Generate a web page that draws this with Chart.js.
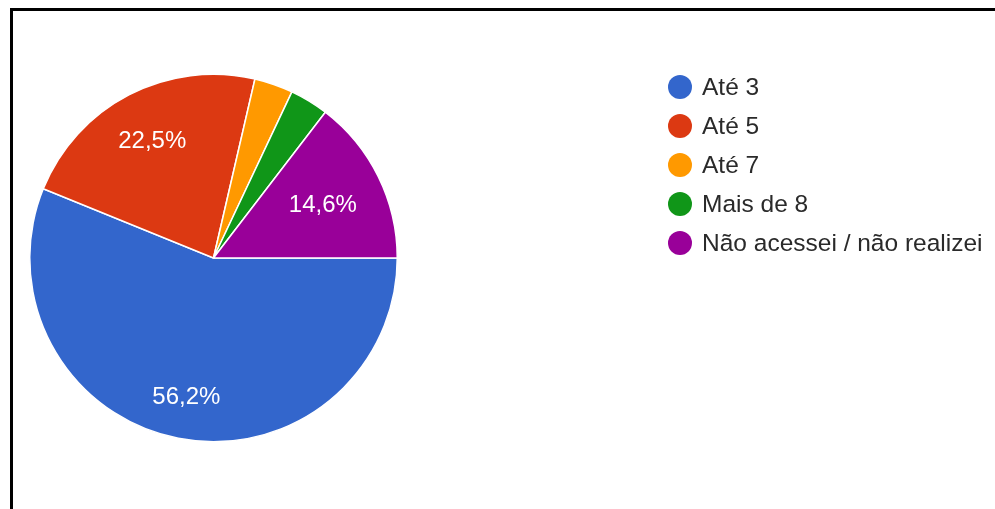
<!DOCTYPE html>
<html>
<head>
<meta charset="utf-8">
<script src="https://cdn.jsdelivr.net/npm/chart.js@4/dist/chart.umd.min.js"></script>
<style>
    html, body { margin: 0; padding: 0; background: #fff; }
    #wrap { position: relative; width: 995px; height: 509px; overflow: hidden; }
    #moldura {
        position: absolute; left: 10px; top: 8px; right: -10px; bottom: -10px;
        border-top: 3px solid #000; border-left: 3px solid #000;
    }
    #grafico { position: absolute; left: 0; top: 0; }
</style>
</head>
<body>
<div id="wrap">
    <canvas id="grafico" width="995" height="509"></canvas>
    <div id="moldura"></div>
</div>
<script>
// Respostas (percentuais)
const categorias = ['Até 3', 'Até 5', 'Até 7', 'Mais de 8', 'Não acessei / não realizei'];
const percentuais = [56.2, 22.5, 3.4, 3.4, 14.6];
const cores = ['#3366cc', '#dc3912', '#ff9900', '#109618', '#990099'];

const fonte = '"Liberation Sans", Arial, sans-serif';

// Rótulos de porcentagem dentro das fatias
const rotulosFatias = {
    id: 'rotulosFatias',
    afterDatasetsDraw(chart) {
        const ctx = chart.ctx;
        const meta = chart.getDatasetMeta(0);
        const valores = chart.data.datasets[0].data;
        ctx.save();
        ctx.font = '24px ' + fonte;
        ctx.fillStyle = '#fff';
        ctx.textAlign = 'center';
        ctx.textBaseline = 'middle';
        meta.data.forEach((arc, i) => {
            if (valores[i] < 5) return;
            const texto = valores[i].toFixed(1).replace('.', ',') + '%';
            const meio = (arc.startAngle + arc.endAngle) / 2;
            const cos = Math.cos(meio), sin = Math.sin(meio);
            const hw = ctx.measureText(texto).width / 2;
            const hh = 8.5;
            // canto externo do texto fica a 0.85 do raio
            const d = arc.outerRadius * 0.85 - (hw * Math.abs(cos) + hh * Math.abs(sin));
            ctx.fillText(texto, arc.x + cos * d, arc.y + sin * d + 1);
        });
        ctx.restore();
    }
};

// Legenda desenhada à direita
const legendaLateral = {
    id: 'legendaLateral',
    afterDraw(chart) {
        const ctx = chart.ctx;
        const ds = chart.data.datasets[0];
        ctx.save();
        ctx.font = '24.5px ' + fonte;
        ctx.textBaseline = 'middle';
        ctx.textAlign = 'left';
        chart.data.labels.forEach((nome, i) => {
            const y = 87 + i * 39;
            ctx.fillStyle = ds.backgroundColor[i];
            ctx.beginPath();
            ctx.arc(680, y, 12, 0, Math.PI * 2);
            ctx.fill();
            ctx.fillStyle = '#2a2a2a';
            ctx.fillText(nome, 702, y + 1);
        });
        ctx.restore();
    }
};

new Chart(document.getElementById('grafico'), {
    type: 'pie',
    data: {
        labels: categorias,
        datasets: [{
            data: percentuais,
            backgroundColor: cores,
            borderColor: '#fff',
            borderWidth: 1.5
        }]
    },
    options: {
        responsive: false,
        animation: false,
        rotation: 90,
        layout: { padding: { left: 29, top: 73, right: 597, bottom: 66 } },
        plugins: {
            legend: { display: false },
            tooltip: { enabled: false }
        }
    },
    plugins: [rotulosFatias, legendaLateral]
});
</script>
</body>
</html>
